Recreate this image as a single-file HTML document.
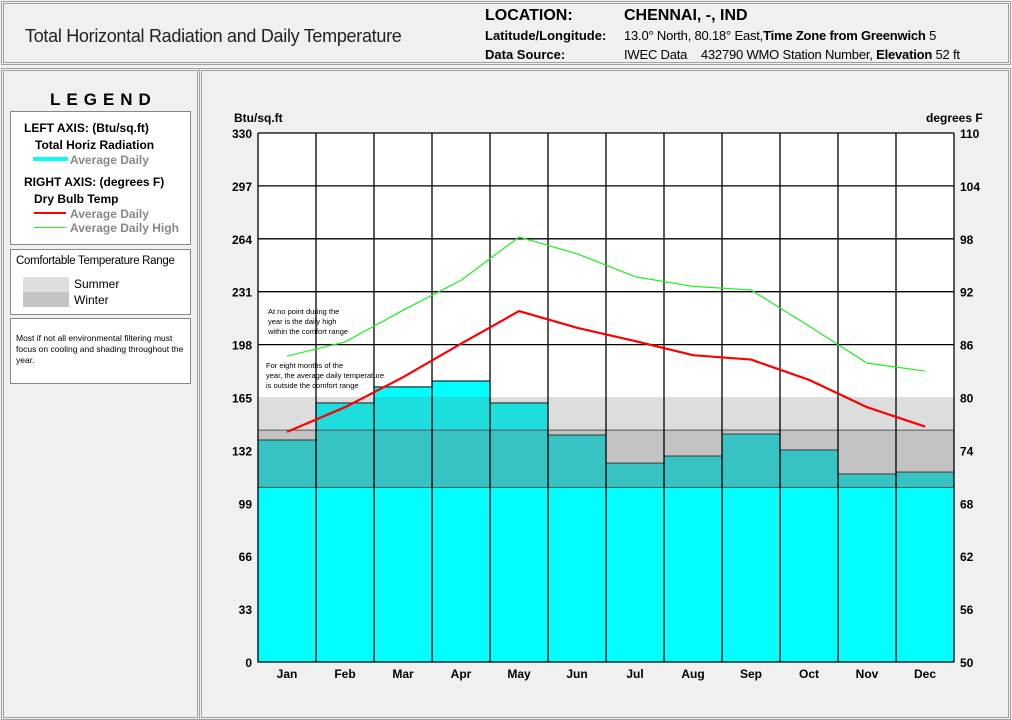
<!DOCTYPE html>
<html><head><meta charset="utf-8"><style>
body{margin:0;width:1012px;height:717px;background:#f0f0f0;font-family:"Liberation Sans",sans-serif;position:relative;overflow:hidden}
.box{position:absolute;border:2px solid #a0a0a0;box-sizing:border-box}
.t{position:absolute;white-space:nowrap}
</style></head><body>
<div class="box" style="left:1px;top:1px;width:1010px;height:64px;border-style:double;border-width:3px"></div>
<div class="t" style="left:25px;top:26px;font-size:18px;color:#222;letter-spacing:-0.3px">Total Horizontal Radiation and Daily Temperature</div>
<div class="t" style="left:485px;top:7px;font-size:16px;font-weight:bold">LOCATION:</div>
<div class="t" style="left:624px;top:7px;font-size:16px;font-weight:bold">CHENNAI, -, IND</div>
<div class="t" style="left:485px;top:28px;font-size:13px;font-weight:bold">Latitude/Longitude:</div>
<div class="t" style="left:624px;top:28px;font-size:13px;letter-spacing:-0.2px">13.0° North, 80.18° East,<b>Time Zone from Greenwich</b> 5</div>
<div class="t" style="left:485px;top:47px;font-size:13px;font-weight:bold">Data Source:</div>
<div class="t" style="left:624px;top:47px;font-size:13px;letter-spacing:-0.2px">IWEC Data &nbsp;&nbsp;&nbsp;432790 WMO Station Number, <b>Elevation</b> 52 ft</div>

<div class="box" style="left:1px;top:68px;width:199px;height:652px;border-style:double;border-width:3px"></div>
<div class="box" style="left:199px;top:68px;width:812px;height:652px;border-style:double;border-width:3px"></div>
<div class="t" style="left:50px;top:90px;font-size:17px;font-weight:bold;letter-spacing:6px">LEGEND</div>
<div class="box" style="left:10px;top:111px;width:181px;height:134px;background:#fff;border-width:1px;border-color:#888"></div>
<div class="t" style="left:24px;top:121px;font-size:12px;font-weight:bold">LEFT AXIS: (Btu/sq.ft)</div>
<div class="t" style="left:35px;top:138px;font-size:12px;font-weight:bold">Total Horiz Radiation</div>
<div style="position:absolute;left:33px;top:157px;width:35px;height:4px;background:#0ff"></div>
<div class="t" style="left:70px;top:153px;font-size:12px;font-weight:bold;color:#888">Average Daily</div>
<div class="t" style="left:24px;top:175px;font-size:12px;font-weight:bold">RIGHT AXIS: (degrees F)</div>
<div class="t" style="left:34px;top:192px;font-size:12px;font-weight:bold">Dry Bulb Temp</div>
<div style="position:absolute;left:34px;top:212px;width:32px;height:2px;background:#f00"></div>
<div class="t" style="left:70px;top:207px;font-size:12px;font-weight:bold;color:#888">Average Daily</div>
<div style="position:absolute;left:34px;top:227px;width:32px;height:1px;background:#2e2"></div>
<div class="t" style="left:70px;top:221px;font-size:12px;font-weight:bold;color:#888">Average Daily High</div>
<div class="box" style="left:10px;top:249px;width:181px;height:66px;background:#fff;border-width:1px;border-color:#888"></div>
<div class="t" style="left:16px;top:255px;font-size:11.5px;letter-spacing:-0.3px">Comfortable Temperature Range</div>
<div style="position:absolute;left:23px;top:277px;width:46px;height:15px;background:#dedede"></div>
<div style="position:absolute;left:23px;top:292px;width:46px;height:15px;background:#c4c4c4"></div>
<div class="t" style="left:74px;top:277px;font-size:12px">Summer</div>
<div class="t" style="left:74px;top:293px;font-size:12px">Winter</div>
<div class="box" style="left:10px;top:318px;width:181px;height:66px;background:#fff;border-width:1px;border-color:#888"></div>
<div class="t" style="left:16px;top:333px;font-size:8.5px;line-height:11px;white-space:normal;width:175px">Most if not all environmental filtering must focus on cooling and shading throughout the year.</div>

<svg id="chart" width="1012" height="717" style="position:absolute;left:0;top:0"></svg>
<script>
const months=["Jan","Feb","Mar","Apr","May","Jun","Jul","Aug","Sep","Oct","Nov","Dec"];
const radiation=[138.5,161.6,171.6,175.3,161.6,141.6,124.1,128.5,142.2,132.3,117.3,118.5];
const avgTemp=[76.1,78.9,82.3,86.1,89.8,87.9,86.4,84.8,84.3,82.0,78.9,76.7];
const highTemp=[84.7,86.3,89.9,93.3,98.2,96.3,93.7,92.6,92.2,88.1,83.9,83.0];
const leftTicks=[0,33,66,99,132,165,198,231,264,297,330];
const rightTicks=[50,56,62,68,74,80,86,92,98,104,110];
const summerRange=[76.3,80.05];
const winterRange=[69.8,76.3];
const X0=258,X1=954,Y0=662,Y1=133;
const NS="http://www.w3.org/2000/svg";
const svg=document.getElementById('chart');
const cw=(X1-X0)/months.length;
const xc=i=>X0+cw*(i+0.5);
const yL=v=>Y0-(v-0)/(330-0)*(Y0-Y1);
const yR=v=>Y0-(v-50)/(110-50)*(Y0-Y1);
function mk(t,a){const e=document.createElementNS(NS,t);for(const k in a)e.setAttribute(k,a[k]);svg.appendChild(e);return e;}
let bg=mk('rect',{x:X0,y:Y1,width:X1-X0,height:Y0-Y1,fill:'#fff'});


radiation.forEach((v,i)=>{
  const r=mk('rect',{x:X0+cw*i,y:yL(v),width:cw,height:Y0-yL(v),fill:'#0ff',stroke:'#000','stroke-width':1});
  
  
});
let sb=mk('rect',{x:X0,y:yR(summerRange[1]),width:X1-X0,height:yR(summerRange[0])-yR(summerRange[1]),fill:'rgb(121,121,121)','fill-opacity':0.25});


let wb=mk('rect',{x:X0,y:yR(winterRange[1]),width:X1-X0,height:yR(winterRange[0])-yR(winterRange[1]),fill:'rgb(123,123,123)','fill-opacity':0.45});


[winterRange[1],winterRange[0]].forEach(v=>mk('line',{x1:X0,x2:X1,y1:yR(v),y2:yR(v),stroke:'#555','stroke-width':1}));
leftTicks.forEach((v,i)=>{
  if(yL(v)>yR(summerRange[1])-1&&i>0&&i<leftTicks.length-1) {}
  else mk('line',{x1:X0,x2:X1,y1:yL(v),y2:yL(v),stroke:'#000','stroke-width':1.3});
  const t=mk('text',{x:X0-6,y:yL(v)+5,'text-anchor':'end','font-size':12,'font-weight':'bold','font-family':'Liberation Sans'});t.textContent=v;
  
  
});
rightTicks.forEach(v=>{const t=mk('text',{x:X1+6,y:yR(v)+5,'font-size':12,'font-weight':'bold','font-family':'Liberation Sans'});t.textContent=v;
  
  });
for(let i=0;i<=months.length;i++) mk('line',{x1:X0+cw*i,x2:X0+cw*i,y1:Y1,y2:Y0,stroke:'#000','stroke-width':1.3});
months.forEach((m,i)=>{const t=mk('text',{x:xc(i),y:678,'text-anchor':'middle','font-size':12,'font-weight':'bold','font-family':'Liberation Sans'});t.textContent=m;
  
  });
let hl=mk('polyline',{points:highTemp.map((v,i)=>xc(i)+','+yR(v)).join(' '),fill:'none',stroke:'#2e2','stroke-width':1.2});


let al=mk('polyline',{points:avgTemp.map((v,i)=>xc(i)+','+yR(v)).join(' '),fill:'none',stroke:'#f00','stroke-width':2.2});


const lt=[[234,122,'Btu/sq.ft','left-axis-title'],[926,122,'degrees F','right-axis-title']];
lt.forEach(a=>{const t=mk('text',{x:a[0],y:a[1],'font-size':12,'font-weight':'bold','font-family':'Liberation Sans'});t.textContent=a[2];
  
  });
const notes=[[268,314,'At no point during the'],[268,324,'year is the daily high'],[268,334,'within the comfort range'],[266,368,'For eight months of the'],[266,378,'year, the average daily temperature'],[266,388,'is outside the comfort range']];
notes.forEach(a=>{const t=mk('text',{x:a[0],y:a[1],'font-size':7.5,'font-family':'Liberation Sans'});t.textContent=a[2];
  
  });
</script>
</body></html>
